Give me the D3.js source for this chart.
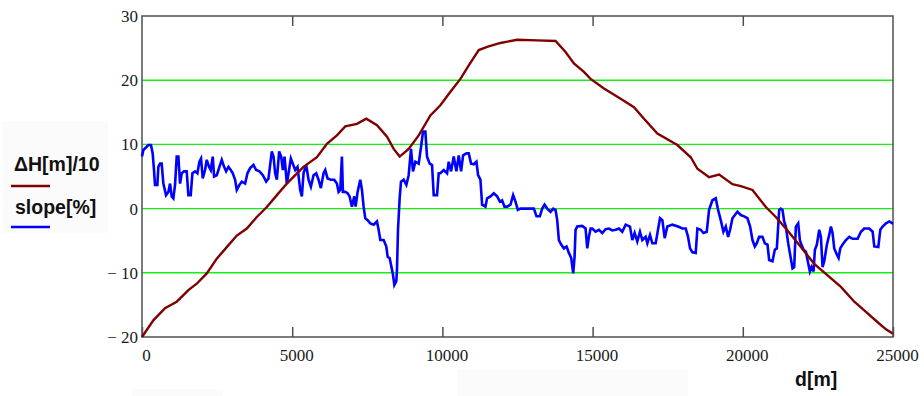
<!DOCTYPE html>
<html>
<head>
<meta charset="utf-8">
<script src="https://cdn.jsdelivr.net/npm/d3@7"></script>
<style>
  body { margin: 0; background: #fff; }
  .tick text { font-family: "Liberation Serif", "Times New Roman", serif; font-size: 17px; fill: #1a1a1a; }
  .lbl { font-family: "Liberation Sans", Arial, sans-serif; font-weight: bold; font-size: 19.5px; fill: #111; }
</style>
</head>
<body>
<div id="chart"></div>
<script>
const width = 924,
    height = 396,
    margin = ({ top: 16, right: 31, bottom: 59, left: 142 });

// elevation difference / 10 (dark red line)
const hDist = [0, 377, 767, 1156, 1544, 1822, 2156, 2489, 2822, 3156, 3489, 3822, 4156, 4489, 4822,
    5100, 5378, 5822, 6156, 6489, 6767, 7156, 7467, 7822, 8156, 8378, 8578, 8878, 9211, 9600,
    9933, 10267, 10600, 10878, 11211, 11489, 11933, 12489, 13156, 13767, 14100, 14378, 14711,
    14933, 15378, 15933, 16378, 16711, 17156, 17822, 18267, 18489, 18878, 19211, 19656,
    19933, 20322, 20767, 21100, 21489, 21933, 22378, 22822, 23267, 23711, 24100, 24489, 24767, 25000];
const hVal = [-20, -17.4, -15.5, -14.5, -12.7, -11.7, -10.1, -7.8, -6.0, -4.2, -3.1, -1.3, 0.25, 2.1, 3.9,
    5.2, 6.5, 8.0, 10.1, 11.4, 12.8, 13.2, 14.0, 13.0, 11.2, 9.3, 8.1, 9.3, 11.4, 14.5,
    16.1, 18.2, 20.2, 22.3, 24.7, 25.2, 25.8, 26.3, 26.2, 26.1, 24.4, 22.6, 21.3,
    20.2, 18.7, 17.1, 15.8, 14.0, 11.7, 9.9, 8.0, 6.2, 4.9, 5.3, 3.8,
    3.5, 2.9, 0.25, -1.3, -3.4, -6.0, -8.6, -10.4, -12.2, -14.5, -16.1, -17.7, -18.8, -19.5];

// slope in % (blue line)
const sDist = [0, 44, 211, 300, 355, 400, 433, 511, 544, 600, 655, 711, 800, 878, 933, 989, 1044, 1100,
    1155, 1211, 1266, 1322, 1400, 1488, 1544, 1622, 1678, 1766, 1844, 1911, 1966, 2022, 2100, 2155,
    2233, 2289, 2355, 2400, 2489, 2578, 2655, 2733, 2800, 2878, 2955, 3022, 3100, 3155, 3244, 3322,
    3433, 3511, 3600, 3711, 3800, 3911, 4022, 4133, 4211, 4266, 4322, 4378, 4433, 4489, 4566, 4633,
    4689, 4744, 4822, 4878, 4955,
    5100, 5177, 5266, 5322, 5377, 5466, 5544, 5622, 5711, 5800, 5877, 5955, 6044, 6100, 6177, 6288,
    6400, 6488, 6544, 6600, 6655, 6688, 6766, 6844, 6911, 6988, 7066, 7111, 7177, 7266, 7322, 7377,
    7433, 7511, 7600, 7711, 7822, 7877, 7933, 8044, 8133, 8177, 8244, 8300, 8355, 8400, 8466, 8488,
    8522, 8577, 8622, 8711, 8800, 8877, 8955, 9022, 9100, 9211, 9288, 9355, 9433, 9488, 9577, 9655,
    9711, 9822, 9877,
    9933, 10044, 10155, 10211, 10289, 10377, 10466, 10544, 10622, 10689, 10800, 10877, 10955, 11044,
    11133, 11188, 11266, 11322, 11433, 11488, 11600, 11711, 11822, 11911, 11988, 12066, 12155, 12266,
    12355, 12433, 12511, 12600, 12822, 13044, 13133, 13244, 13322, 13400, 13488, 13600, 13688, 13766,
    13822, 13877, 13955, 14044, 14133, 14211, 14288, 14355, 14400, 14433, 14488, 14655, 14766, 14822,
    14877, 14933,
    14988, 15100, 15211, 15322, 15433, 15544, 15655, 15766, 15877, 15988, 16100, 16244, 16322, 16400,
    16488, 16577, 16655, 16766, 16822, 16911, 16988, 17100, 17177, 17244, 17322, 17400, 17488, 17655,
    17844, 17988, 18100, 18177, 18244, 18322, 18433, 18488, 18600, 18688, 18800, 18877, 18988, 19100,
    19177, 19266, 19355, 19433, 19511, 19577, 19655, 19822,
    19933, 20044, 20155, 20244, 20322, 20400, 20466, 20544, 20655, 20733, 20822, 20877, 20988, 21066,
    21133, 21211, 21266, 21322, 21377, 21433, 21511, 21577, 21655, 21711, 21766, 21844, 21900, 21933,
    22022, 22100, 22155, 22233, 22288, 22355, 22400, 22466, 22544, 22600, 22655, 22711, 22800, 22877,
    22933, 22988, 23044, 23133, 23188, 23244, 23322, 23433, 23544, 23655, 23822, 23933, 24044, 24211,
    24322, 24377, 24511, 24577, 24655, 24766, 24877, 24988, 25000];
const sVal = [8.1, 9.1, 9.9, 9.9, 8.6, 6.0, 3.7, 3.7, 6.5, 7.0, 7.0, 3.9, 2.1, 2.6, 3.9, 1.9, 1.6, 3.7,
    8.1, 8.1, 3.9, 5.5, 5.8, 5.8, 2.1, 2.1, 5.5, 5.8, 5.5, 7.3, 7.8, 4.7, 6.0, 7.6,
    6.5, 6.0, 8.1, 5.0, 5.2, 6.5, 7.6, 6.5, 5.8, 6.5, 6.0, 5.5, 4.5, 2.9, 3.7, 4.2,
    3.9, 5.5, 6.3, 6.8, 6.0, 5.8, 5.2, 4.2, 4.7, 6.8, 8.9, 8.1, 5.5, 4.5, 8.9, 8.1,
    6.0, 8.1, 3.9, 5.5, 7.8,
    6.0, 6.5, 2.9, 1.9, 5.5, 6.8, 4.5, 3.4, 5.2, 5.5, 4.5, 3.2, 5.5, 6.0, 4.7, 4.5,
    4.5, 3.9, 2.6, 2.9, 8.1, 2.6, 2.6, 2.4, 1.9, 0.3, 1.9, 0.3, 2.6, 4.5, 2.9, 0.3,
    -1.5, -1.8, -2.3, -2.5, -2.0, -3.3, -4.9, -4.9, -5.9, -7.5, -7.7, -9.0, -10.3, -11.9, -11.3, -9.5,
    -3.3, 1.6, 4.2, 4.5, 3.7, 5.2, 9.3, 5.8, 7.3, 7.0, 9.6, 12.0, 12.0, 8.1, 7.0, 6.8,
    2.1, 2.1, 5.5,
    5.5, 6.0, 5.5, 7.3, 5.8, 8.1, 5.8, 8.3, 5.8, 8.3, 8.6, 8.6, 7.0, 6.9,
    7.3, 5.2, 4.5, 0.6, 0.3, 1.6, 1.9, 2.4, 1.9, 1.1, 1.3, 0.3, 0.3, 0.6,
    2.1, 1.1, -0.2, 0, 0, 0, -1.2, -1.2, 0, 0.6, 0, -0.5, 0, -0.2,
    -1.8, -4.9, -5.6, -6.2, -5.9, -6.9, -7.7, -10.1, -7.5, -3.3, -2.8, -2.7, -3.1, -6.2,
    -4.4, -3.1,
    -3.1, -3.6, -3.3, -3.8, -3.2, -3.1, -3.4, -3.3, -3.1, -3.6, -2.5, -2.8, -4.9, -3.8,
    -5.1, -3.6, -4.9, -4.4, -5.4, -4.1, -5.4, -5.4, -3.3, -1.5, -1.8, -4.6, -2.8, -2.5,
    -2.8, -3.1, -3.1, -4.4, -6.2, -6.8, -6.9, -3.1, -3.3, -3.8, -3.6, -0.2, 1.3, 1.6,
    -0.2, -1.8, -3.6, -2.8, -4.4, -3.3, -1.5, -0.5,
    -1.0, -1.2, -1.5, -2.8, -4.9, -5.9, -5.4, -4.4, -4.4, -5.4, -5.6, -8.0, -8.2, -6.4,
    -6.2, -0.2, 0, -0.2, -2.0, -2.8, -5.4, -7.2, -9.3, -9.1, -2.8, -2.3, -4.9, -5.4,
    -6.4, -6.7, -8.0, -9.8, -9.1, -9.8, -6.4, -5.6, -3.3, -4.4, -9.1, -8.2, -5.6, -4.1,
    -2.8, -3.8, -6.2, -7.2, -7.7, -6.2, -5.6, -4.9, -4.4, -4.7, -4.7, -3.6, -3.1, -3.1,
    -3.6, -5.9, -6.0, -3.3, -2.8, -2.3, -2.0, -2.3, -2.3];

const xTicks = [0, 5000, 10000, 15000, 20000, 25000];
const yTicks = [-20, -10, 0, 10, 20, 30];
const gridValues = [-10, 0, 10, 20];

const svg = d3.select("#chart")
    .append("svg")
    .attr("width", width)
    .attr("height", height)
    .attr("viewBox", [0, 0, width, height]);

// faint background boxes seen in the screenshot
svg.append("rect").attr("x", 3).attr("y", 121).attr("width", 105).attr("height", 112).attr("fill", "#fbfbfb");
svg.append("rect").attr("x", 457).attr("y", 370).attr("width", 231).attr("height", 26).attr("fill", "#fbfbfb");
svg.append("rect").attr("x", 132).attr("y", 389).attr("width", 91).attr("height", 7).attr("fill", "#fbfbfb");

let x = d3.scaleLinear()
    .domain([0, 25000])
    .range([margin.left, width - margin.right]);

let y = d3.scaleLinear()
    .domain([-20, 30])
    .range([height - margin.bottom, margin.top]);

// green grid lines
svg.append("g")
    .selectAll("line")
    .data(gridValues)
    .join("line")
    .attr("x1", x(0))
    .attr("x2", x(25000))
    .attr("y1", d => y(d))
    .attr("y2", d => y(d))
    .attr("stroke", "#14f014")
    .attr("stroke-width", 1.4);

// bottom axis, ticks pointing up into the plot
const xAxis = svg.append("g")
    .attr("transform", `translate(0,${y(-20)})`)
    .call(d3.axisBottom(x)
        .tickValues(xTicks)
        .tickSizeInner(-10)
        .tickSizeOuter(0)
        .tickPadding(12)
        .tickFormat(d3.format("d")));
xAxis.select(".domain").remove();
xAxis.selectAll(".tick line").attr("stroke", "#505050").attr("stroke-width", 1.5);
xAxis.selectAll(".tick text").attr("dx", 4);

// top axis, ticks only
const xTop = svg.append("g")
    .attr("transform", `translate(0,${y(30)})`)
    .call(d3.axisTop(x)
        .tickValues(xTicks.slice(1, -1))
        .tickSizeInner(-10)
        .tickSizeOuter(0)
        .tickFormat(""));
xTop.select(".domain").remove();
xTop.selectAll(".tick line").attr("stroke", "#505050").attr("stroke-width", 1.5);

// left axis labels
const yAxis = svg.append("g")
    .attr("transform", `translate(${x(0)},0)`)
    .call(d3.axisLeft(y)
        .tickValues(yTicks)
        .tickSize(0)
        .tickPadding(4)
        .tickFormat(d => d < 0 ? "\u2212 " + (-d) : d));
yAxis.select(".domain").remove();

// frame
svg.append("rect")
    .attr("x", x(0))
    .attr("y", y(30))
    .attr("width", x(25000) - x(0))
    .attr("height", y(-20) - y(30))
    .attr("fill", "none")
    .attr("stroke", "#505050")
    .attr("stroke-width", 1.5);

const hData = hDist.map((d, i) => ({ d: d, v: hVal[i] }));
const sData = sDist.map((d, i) => ({ d: d, v: sVal[i] }));

let line = d3.line()
    .x(p => x(p.d))
    .y(p => y(p.v));

svg.append("path")
    .datum(sData)
    .attr("d", line)
    .attr("fill", "none")
    .attr("stroke", "#0000ff")
    .attr("stroke-width", 2.6)
    .attr("stroke-linejoin", "miter");

svg.append("path")
    .datum(hData)
    .attr("d", line)
    .attr("fill", "none")
    .attr("stroke", "#800000")
    .attr("stroke-width", 2.4);

// legend
svg.append("text").attr("class", "lbl").attr("x", 14).attr("y", 171).text("\u0394H[m]/10");
svg.append("line").attr("x1", 11).attr("x2", 50).attr("y1", 186).attr("y2", 186)
    .attr("stroke", "#800000").attr("stroke-width", 2.4);
svg.append("text").attr("class", "lbl").attr("x", 15).attr("y", 214).text("slope[%]");
svg.append("line").attr("x1", 11).attr("x2", 50).attr("y1", 227).attr("y2", 227)
    .attr("stroke", "#0000ff").attr("stroke-width", 2.4);

// x axis title
svg.append("text").attr("class", "lbl").attr("x", 795).attr("y", 386).text("d[m]");
</script>
</body>
</html>
